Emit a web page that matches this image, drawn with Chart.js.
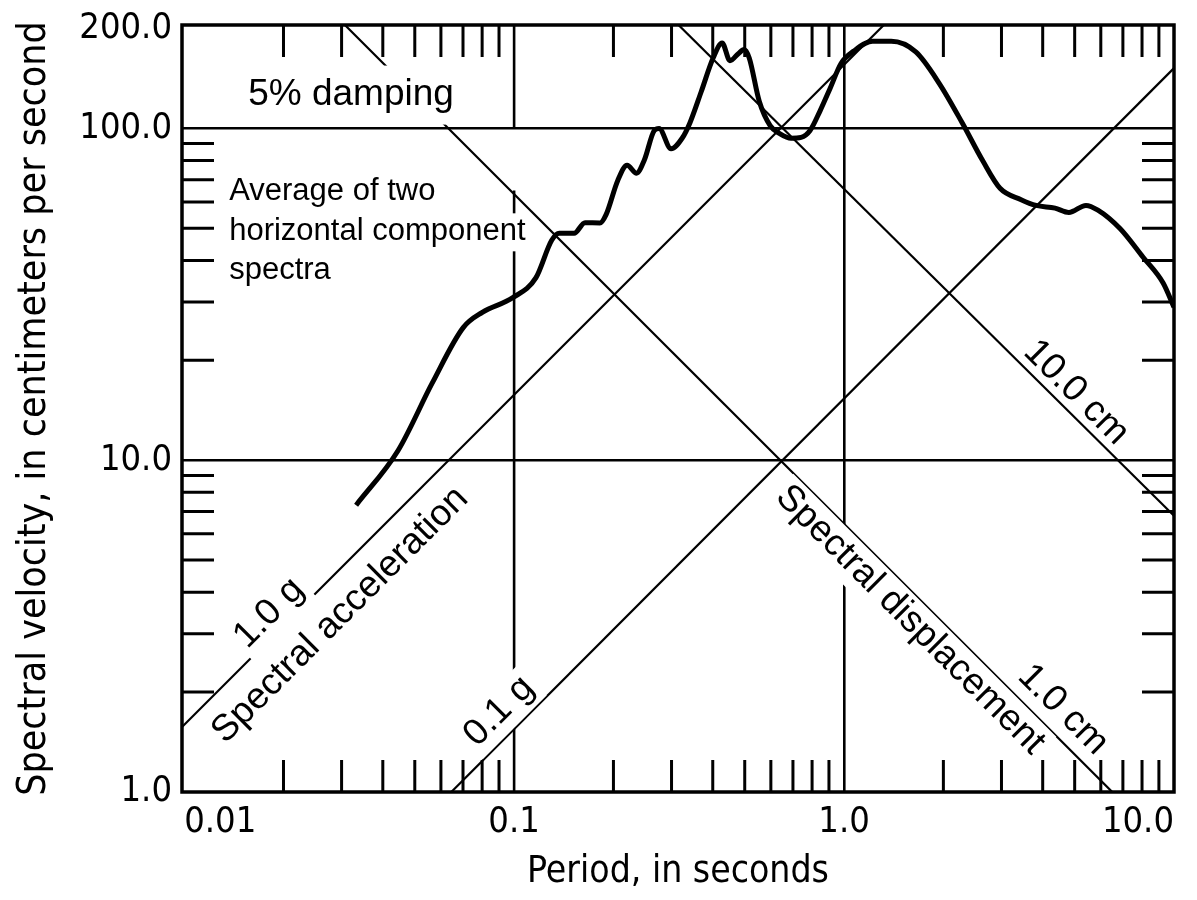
<!DOCTYPE html>
<html>
<head>
<meta charset="utf-8">
<title>Response spectrum</title>
<script src="https://cdn.jsdelivr.net/npm/chart.js@4.4.1/dist/chart.umd.min.js"></script>
<style>
  html, body { margin: 0; padding: 0; background: #fff; }
  #wrap { width: 1197px; height: 900px; position: relative; }
</style>
</head>
<body>
<div id="wrap"><canvas id="spectrumChart"></canvas></div>
<script>
// spectrum curve (period s, velocity cm/s)
var periods = [0.0332, 0.0445, 0.0565, 0.0701, 0.0801, 0.0991, 0.1165, 0.130, 0.137, 0.152,
  0.164, 0.182, 0.190, 0.206, 0.220, 0.235, 0.248, 0.266, 0.275, 0.299,
  0.323, 0.341, 0.369, 0.401, 0.427, 0.451, 0.478, 0.498, 0.516, 0.553,
  0.597, 0.640, 0.691, 0.741, 0.789, 0.846, 0.907, 0.979, 1.07, 1.22,
  1.39, 1.65, 1.94, 2.28, 2.63, 2.97, 3.44, 3.82, 4.36, 4.80,
  5.41, 5.88, 6.86, 8.06, 9.27, 10.0];
var velocities = [7.32, 10.7, 17.1, 25.1, 27.9, 30.9, 35.5, 46, 48.3, 48.3,
  52, 51.9, 55, 69.6, 77.5, 73.3, 80.2, 98.6, 100, 86.8,
  93.4, 103.9, 129, 163, 181, 160, 168, 173, 163, 121,
  102, 96.3, 93.4, 94, 98.6, 113, 132, 157, 171, 183,
  183, 170, 137, 104, 80, 66, 61, 58.6, 57.5, 55.8,
  58.6, 56.7, 49.9, 40.9, 34.2, 28.9];

// tripartite guide lines, end points
var accel1gT = [0.00985, 1.32];
var accel1gV = [1.57, 205];
var accel01gT = [0.0645, 10];
var accel01gV = [1, 152];
var disp1cmT = [0.0307, 6.5];
var disp1cmV = [205, 1];
var disp10cmT = [0.315, 10];
var disp10cmV = [205, 6.8];

// the 0.1 s grid line is broken below the 100 line
var grid01T = [0.1, 0.1, 0.1, 0.1, 0.1];
var grid01V = [205, 100, null, 65, 1];

// axis ticks
var xMajor = [0.01, 0.1, 1, 10];
var xMajorLabels = ["0.01", "0.1", "1.0", "10.0"];
var xMinor = [0.02, 0.03, 0.04, 0.05, 0.06, 0.07, 0.08, 0.09,
  0.2, 0.3, 0.4, 0.5, 0.6, 0.7, 0.8, 0.9,
  2, 3, 4, 5, 6, 7, 8, 9];
var yMajor = [1, 10, 100, 200];
var yMajorLabels = ["1.0", "10.0", "100.0", "200.0"];
var yMinor = [2, 3, 4, 5, 6, 7, 8, 9, 20, 30, 40, 50, 60, 70, 80, 90];
var xGrid = [1];
var yGrid = [10, 100];

// text placed on the plot (x = period, y = velocity of the anchor)
var notes = [
  { text: "5% damping", x: 0.01563, y: 118, angle: 0, size: 37, align: "left", base: "alphabetic", pad: 12 },
  { text: "Average of two", x: 0.01369, y: 60.7, angle: 0, size: 31, align: "left", base: "alphabetic", pad: 4 },
  { text: "horizontal component", x: 0.01369, y: 46.0, angle: 0, size: 31, align: "left", base: "alphabetic", pad: 4 },
  { text: "spectra", x: 0.01369, y: 35.1, angle: 0, size: 31, align: "left", base: "alphabetic", pad: 4 },
  { text: "1.0 g", x: 0.0181, y: 3.46, angle: -45, size: 37, align: "center", base: "middle", pad: 4 },
  { text: "Spectral acceleration", x: 0.0297, y: 3.41, angle: -45, size: 37, align: "center", base: "middle", pad: 4 },
  { text: "0.1 g", x: 0.0901, y: 1.75, angle: -45, size: 37, align: "center", base: "middle", pad: 4 },
  { text: "Spectral displacement", x: 1.585, y: 3.30, angle: 45, size: 37, align: "center", base: "middle", pad: 4 },
  { text: "1.0 cm", x: 4.61, y: 1.77, angle: 45, size: 37, align: "center", base: "middle", pad: 4 },
  { text: "10.0 cm", x: 5.05, y: 16.0, angle: 45, size: 37, align: "center", base: "middle", pad: 4 }
];

var axisFont = "'DejaVu Sans Condensed', 'DejaVu Sans', sans-serif";
var noteFont = "'Liberation Sans', Arial, sans-serif";

function pairs(xs, ys) {
  return xs.map(function (x, i) { return { x: x, y: ys[i] }; });
}

function guide(xs, ys, w) {
  return {
    data: pairs(xs, ys),
    borderColor: "#000",
    borderWidth: w || 2.2,
    pointRadius: 0,
    tension: 0,
    spanGaps: false
  };
}

// minor ticks pointing inwards, labels with white knock-out, frame
var plotDecor = {
  id: "plotDecor",
  beforeDatasetsDraw: function (chart) {
    var ctx = chart.ctx, a = chart.chartArea;
    var xs = chart.scales.x, ys = chart.scales.y;
    var len = 32;
    ctx.save();
    ctx.strokeStyle = "#000";
    ctx.lineWidth = 3;
    ctx.beginPath();
    xMinor.forEach(function (v) {
      var px = xs.getPixelForValue(v);
      ctx.moveTo(px, a.top); ctx.lineTo(px, a.top + len);
      ctx.moveTo(px, a.bottom); ctx.lineTo(px, a.bottom - len);
    });
    yMinor.forEach(function (v) {
      var py = ys.getPixelForValue(v);
      ctx.moveTo(a.left, py); ctx.lineTo(a.left + len, py);
      ctx.moveTo(a.right, py); ctx.lineTo(a.right - len, py);
    });
    ctx.stroke();
    ctx.restore();
  },
  beforeDatasetDraw: function (chart, args) {
    if (args.index !== 0) return;
    var ctx = chart.ctx;
    var xs = chart.scales.x, ys = chart.scales.y;
    notes.forEach(function (n) {
      var px = xs.getPixelForValue(n.x);
      var py = ys.getPixelForValue(n.y);
      ctx.save();
      ctx.translate(px, py);
      ctx.rotate(n.angle * Math.PI / 180);
      ctx.font = n.size + "px " + noteFont;
      ctx.textAlign = n.align;
      ctx.textBaseline = n.base;
      var m = ctx.measureText(n.text);
      var x0 = n.align === "left" ? 0 : -m.width / 2;
      ctx.fillStyle = "#fff";
      ctx.fillRect(x0 - n.pad, -m.actualBoundingBoxAscent - n.pad,
        m.width + 2 * n.pad, m.actualBoundingBoxAscent + m.actualBoundingBoxDescent + 2 * n.pad);
      ctx.fillStyle = "#000";
      ctx.fillText(n.text, 0, 0);
      ctx.restore();
    });
  },
  afterDraw: function (chart) {
    var ctx = chart.ctx, a = chart.chartArea;
    ctx.save();
    ctx.strokeStyle = "#000";
    ctx.lineWidth = 3.5;
    ctx.strokeRect(a.left, a.top, a.right - a.left, a.bottom - a.top);
    ctx.restore();
  }
};

new Chart("spectrumChart", {
  type: "line",
  data: {
    datasets: [{
      data: pairs(periods, velocities),
      borderColor: "#000",
      borderWidth: 5,
      pointRadius: 0,
      cubicInterpolationMode: "monotone"
    },
      guide(accel1gT, accel1gV),
      guide(accel01gT, accel01gV),
      guide(disp1cmT, disp1cmV),
      guide(disp10cmT, disp10cmV),
      guide(grid01T, grid01V, 2.6)
    ]
  },
  options: {
    responsive: true,
    maintainAspectRatio: false,
    animation: false,
    layout: { padding: { top: 25, right: 23, left: 0, bottom: 0 } },
    plugins: {
      legend: { display: false },
      tooltip: { enabled: false }
    },
    scales: {
      x: {
        type: "logarithmic",
        min: 0.00985,
        max: 10,
        afterBuildTicks: function (s) { s.ticks = xMajor.map(function (v) { return { value: v }; }); },
        afterFit: function (s) { s.height = 108; },
        ticks: {
          autoSkip: false,
          maxRotation: 0,
          align: "inner",
          padding: 9,
          color: "#000",
          font: { family: axisFont, size: 36 },
          callback: function (v, i) { return xMajorLabels[i]; }
        },
        grid: {
          drawTicks: false,
          lineWidth: 2.6,
          color: function (c) { return c.tick && xGrid.indexOf(c.tick.value) >= 0 ? "#000" : "rgba(0,0,0,0)"; }
        },
        border: { display: false },
        title: {
          display: true,
          text: "Period, in seconds",
          color: "#000",
          font: { family: axisFont, size: 37 },
          padding: { top: 0, bottom: 5 }
        }
      },
      y: {
        type: "logarithmic",
        min: 1,
        max: 205,
        afterBuildTicks: function (s) { s.ticks = yMajor.map(function (v) { return { value: v }; }); },
        afterFit: function (s) { s.width = 182; },
        ticks: {
          autoSkip: false,
          padding: 10,
          color: "#000",
          font: { family: axisFont, size: 36, lineHeight: 0.8 },
          callback: function (v, i) { return yMajorLabels[i]; }
        },
        grid: {
          drawTicks: false,
          lineWidth: 2.6,
          color: function (c) { return c.tick && yGrid.indexOf(c.tick.value) >= 0 ? "#000" : "rgba(0,0,0,0)"; }
        },
        border: { display: false },
        title: {
          display: true,
          text: "Spectral velocity, in centimeters per second",
          color: "#000",
          font: { family: axisFont, size: 39 },
          padding: { top: 11, bottom: 0 }
        }
      }
    }
  },
  plugins: [plotDecor]
});
</script>
</body>
</html>
